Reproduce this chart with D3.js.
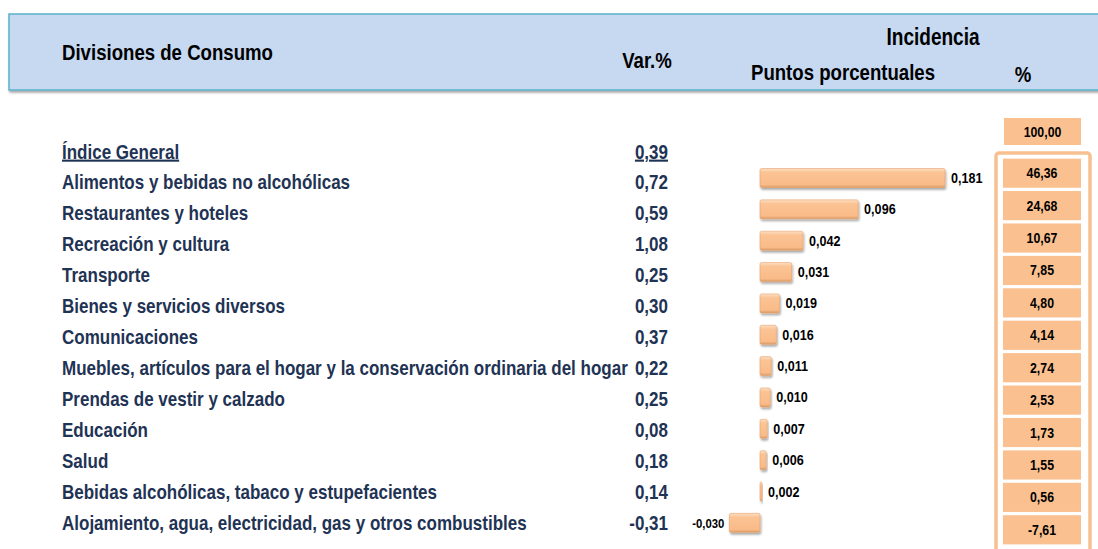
<!DOCTYPE html>
<html>
<head>
<meta charset="utf-8">
<title>Divisiones de Consumo</title>
<script src="https://d3js.org/d3.v7.min.js"></script>
<style>
  body { margin: 0; background: #fff; }
  text { font-family: "Liberation Sans", Arial, sans-serif; font-weight: bold; }
</style>
</head>
<body>
<div id="chart"></div>
<script>
// datos
const divisiones = [
  "Alimentos y bebidas no alcohólicas",
  "Restaurantes y hoteles",
  "Recreación y cultura",
  "Transporte",
  "Bienes y servicios diversos",
  "Comunicaciones",
  "Muebles, artículos para el hogar y la conservación ordinaria del hogar",
  "Prendas de vestir y calzado",
  "Educación",
  "Salud",
  "Bebidas alcohólicas, tabaco y estupefacientes",
  "Alojamiento, agua, electricidad, gas y otros combustibles"
];
const varPct = ["0,72", "0,59", "1,08", "0,25", "0,30", "0,37", "0,22", "0,25", "0,08", "0,18", "0,14", "-0,31"];
const puntos = [0.181, 0.096, 0.042, 0.031, 0.019, 0.016, 0.011, 0.010, 0.007, 0.006, 0.002, -0.030];
const pesoPct = ["46,36", "24,68", "10,67", "7,85", "4,80", "4,14", "2,74", "2,53", "1,73", "1,55", "0,56", "-7,61"];
const general = { nombre: "Índice General", var: "0,39", pct: "100,00" };

const W = 1098, H = 549;
const navy = "#1f3354";
const peach = "#fac090";

const svg = d3.select("#chart").append("svg")
  .attr("width", W).attr("height", H);

// texto estrecho (tipo Arial Narrow): translate + escala en x
function txt(g, x, y, s, size, color, anchor, sx) {
  return g.append("text")
    .attr("transform", "translate(" + x + "," + y + ") scale(" + (sx || 0.81) + ",1)")
    .attr("font-size", size)
    .attr("fill", color)
    .attr("text-anchor", anchor || "start")
    .text(s);
}

const defs = svg.append("defs");
const grad = defs.append("linearGradient").attr("id", "barGrad")
  .attr("x1", 0).attr("y1", 0).attr("x2", 0).attr("y2", 1);
grad.append("stop").attr("offset", "0%").attr("stop-color", "#fde0c6");
grad.append("stop").attr("offset", "20%").attr("stop-color", "#fbc394");
grad.append("stop").attr("offset", "85%").attr("stop-color", "#f9bb88");
grad.append("stop").attr("offset", "100%").attr("stop-color", "#d99a66");

const sh = defs.append("filter").attr("id", "shadow")
  .attr("x", "-10%").attr("y", "-20%").attr("width", "130%").attr("height", "160%");
sh.append("feDropShadow").attr("dx", 1).attr("dy", 2).attr("stdDeviation", 1)
  .attr("flood-color", "#000").attr("flood-opacity", 0.35);

// cabecera
svg.append("rect")
  .attr("x", 9).attr("y", 14).attr("width", W).attr("height", 76)
  .attr("fill", "#c6d9f1").attr("stroke", "#5bb0cc").attr("stroke-width", 1.5)
  .attr("filter", "url(#shadow)");

const head = svg.append("g");
txt(head, 62, 60, "Divisiones de Consumo", 23, "#000");
txt(head, 647, 68, "Var.%", 23, "#000", "middle");
txt(head, 933, 45, "Incidencia", 23.5, "#000", "middle");
txt(head, 843, 80, "Puntos porcentuales", 23, "#000", "middle");
txt(head, 1023, 82, "%", 23, "#000", "middle");

// escalas
const y = d3.scaleBand().domain(divisiones).range([166.5, 538.5]).padding(0);
const yBox = d3.scaleBand().domain(divisiones).range([157, 546]).paddingInner(0.1).paddingOuter(0.05);
const x = d3.scaleLinear().domain([0, 0.181]).range([760, 945]);

// indice general
const ig = svg.append("g");
txt(ig, 62, 158.5, general.nombre, 21, navy).attr("text-decoration", "underline");
txt(ig, 668, 158.5, general.var, 21, navy, "end").attr("text-decoration", "underline");

// etiquetas de filas
const rows = svg.append("g");
divisiones.forEach((d, i) => {
  const yy = y(d) + y.bandwidth() / 2 + 7;
  txt(rows, 62, yy, d, 21, navy);
  txt(rows, 668, yy, varPct[i], 21, navy, "end");
});

// barras
const bh = 19;
const barY = (i) => y(divisiones[i]) + y.bandwidth() / 2 - bh / 2 - 4 + i * 0.35;
const bars = svg.append("g");
bars.selectAll("rect").data(puntos).join("rect")
  .attr("x", d => Math.min(x(0), x(d)))
  .attr("y", (d, i) => barY(i))
  .attr("width", d => Math.max(2, Math.abs(x(d) - x(0))))
  .attr("height", bh)
  .attr("rx", 1.5)
  .attr("fill", "url(#barGrad)")
  .attr("stroke", "#e7a26c").attr("stroke-width", 0.6)
  .attr("filter", "url(#shadow)");
puntos.forEach((d, i) => {
  const lx = d >= 0 ? Math.max(x(d), x(0) + 2) + 6 : x(d) - 5;
  txt(bars, lx, barY(i) + bh / 2 + 5,
      d3.format(".3f")(d).replace(".", ",").replace("−", "-"),
      d >= 0 ? 15 : 13.5, "#000", d >= 0 ? "start" : "end", 0.84);
});

// columna %
svg.append("rect").attr("x", 1004).attr("y", 118).attr("width", 77).attr("height", 27)
  .attr("fill", peach);
txt(svg, 1042.5, 137, general.pct, 14.5, "#000", "middle", 0.85);

svg.append("rect").attr("x", 996).attr("y", 153).attr("width", 94).attr("height", 420)
  .attr("rx", 3).attr("fill", "#fff").attr("stroke", "#f8c091").attr("stroke-width", 3.5);

const boxes = svg.append("g");
boxes.selectAll("rect").data(pesoPct).join("rect")
  .attr("x", 1003)
  .attr("y", (d, i) => yBox(divisiones[i]))
  .attr("width", 78)
  .attr("height", yBox.bandwidth())
  .attr("fill", peach);
pesoPct.forEach((d, i) => {
  txt(boxes, 1042, yBox(divisiones[i]) + yBox.bandwidth() / 2 + 5, d, 14.5, "#000", "middle", 0.85);
});
</script>
</body>
</html>
